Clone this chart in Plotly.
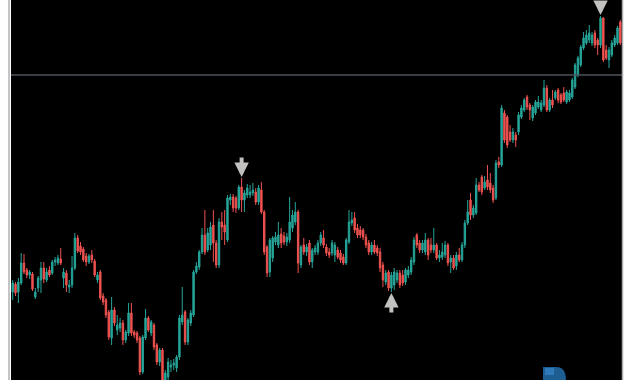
import plotly.graph_objects as go

# Candle data (price units), in time order
open_ = [108,116,108,117,137,130,125,126,103,112,120,
         132,120,130,127,138,137,141,122,127,113,115,
         132,162,154,151,144,138,145,139,120,128,104,
         100,88,62,90,70,72,77,60,67,87,
         68,67,62,28,62,82,67,75,55,38,
         50,20,23,33,35,32,43,78,88,58,77,
         85,128,133,148,165,150,155,175,157,135,
         178,175,160,200,203,202,192,213,200,205,
         205,207,208,198,210,188,153,128,142,158,
         155,166,164,158,160,172,178,188,135,155,
         148,157,138,148,148,157,162,153,148,147,
         145,150,147,143,137,158,177,182,172,170,
         170,163,157,148,155,152,148,135,118,128,
         112,115,120,127,125,118,125,128,138,165,
         157,150,148,160,155,150,155,142,143,
         145,155,138,142,134,145,140,155,177,200,
         185,187,215,223,212,220,217,212,202,238,
         235,287,283,268,260,265,268,283,290,
         303,295,282,287,293,290,295,312,290,300,
         302,310,305,307,298,300,303,313,325,
         335,352,357,360,357,367,360,355,382,350,
         340,345,355,357,378]
high = [120,118,122,147,146,132,130,128,112,124,138,
        138,132,134,140,143,145,152,132,130,120,144,
        167,165,158,153,147,146,150,141,128,130,107,
        102,90,103,93,85,82,80,70,97,97,
        70,69,64,65,91,84,80,77,57,52,
        52,30,42,40,41,45,85,113,90,82,90,
        130,138,150,172,190,172,178,190,160,182,
        188,190,205,206,206,204,215,222,210,216,
        215,217,212,215,218,190,155,162,164,168,
        178,172,168,167,203,190,198,190,155,162,
        156,160,152,155,160,168,170,156,152,160,
        158,153,150,146,162,190,188,188,176,174,
        172,166,160,158,160,155,152,138,130,130,
        128,132,130,130,130,132,134,143,163,167,
        160,160,167,162,162,172,157,150,157,
        159,157,145,145,148,152,158,180,200,207,
        195,222,218,225,224,235,227,215,240,243,
        295,290,285,275,272,268,288,295,302,
        305,297,295,300,304,300,320,315,302,310,
        310,312,307,313,310,310,322,337,344,
        355,368,370,375,368,370,362,384,383,355,
        353,360,365,374,380]
low = [100,104,97,115,126,122,121,109,101,108,107,
       117,118,123,125,134,135,135,112,108,107,112,
       130,147,145,138,134,136,137,123,117,100,95,
       82,60,55,74,65,68,55,57,64,64,
       62,57,25,26,60,68,64,50,35,34,
       18,18,18,28,30,28,40,75,55,55,74,
       83,126,130,146,145,148,150,138,132,132,
       160,155,158,195,188,187,190,188,188,202,
       202,204,195,195,186,145,123,123,138,155,
       152,152,155,154,157,168,175,127,132,145,
       144,135,132,145,145,154,152,144,142,144,
       138,141,137,135,135,156,174,167,162,162,
       160,152,145,145,146,144,128,113,115,109,
       108,110,117,112,114,115,122,125,135,152,
       147,147,145,140,147,147,140,138,140,
       142,134,127,130,130,138,138,152,175,180,
       182,185,208,205,210,210,207,197,200,232,
       233,257,252,258,257,253,265,281,288,
       290,280,279,285,291,288,293,288,288,292,
       300,297,296,298,296,298,301,311,323,
       333,350,355,357,354,352,345,352,338,340,
       332,343,353,355,355]
close = [117,107,118,137,128,125,128,111,108,122,132,
         121,128,125,138,140,142,137,128,115,115,132,
         162,149,148,140,138,144,140,125,125,102,98,
         85,63,90,77,75,77,60,68,87,67,
         65,60,28,63,82,70,78,53,38,50,
         20,27,38,35,37,43,82,85,58,80,87,
         128,134,148,165,148,167,173,157,135,178,
         173,168,202,203,192,192,213,200,207,212,
         208,210,198,212,188,148,127,160,162,163,
         165,157,158,163,178,185,188,137,153,148,
         153,138,150,152,157,165,155,147,145,157,
         155,143,140,137,160,178,180,170,165,165,
         163,155,148,155,148,147,132,120,127,112,
         125,128,127,115,117,130,130,140,160,155,
         150,157,160,145,150,155,142,145,148,
         155,137,142,132,145,140,155,177,188,185,
         192,215,210,208,218,213,210,200,237,235,
         292,260,255,260,268,260,285,292,300,
         293,290,293,298,298,297,312,290,300,295,
         308,300,298,300,308,307,320,335,342,
         353,362,365,367,365,355,355,382,340,342,
         350,357,362,372,357]

level_price = 325          # horizontal level line
signal_down = [81, 208]    # candles marked with a down arrow (at high)
signal_up = [134]          # candle marked with an up arrow (at low)

n = len(close)
idx = list(range(n))

fig = go.Figure()
fig.add_trace(go.Candlestick(
    x=idx, open=open_, high=high, low=low, close=close,
    increasing=dict(line=dict(color="#26a69a", width=1), fillcolor="#26a69a"),
    decreasing=dict(line=dict(color="#ef5350", width=1), fillcolor="#ef5350"),
    whiskerwidth=0, showlegend=False, hoverinfo="skip",
))

fig.add_shape(type="line", xref="paper", yref="y", x0=0, x1=1,
              y0=level_price, y1=level_price,
              line=dict(color="#4d535d", width=1.6))

for i in signal_down:
    fig.add_annotation(x=i, y=high[i], xref="x", yref="y", text="",
                       showarrow=True, ax=0, ay=-22, arrowhead=2, arrowsize=0.72,
                       arrowwidth=4, arrowcolor="#c2c1bf", standoff=1)
for i in signal_up:
    fig.add_annotation(x=i, y=low[i], xref="x", yref="y", text="",
                       showarrow=True, ax=0, ay=22, arrowhead=2, arrowsize=0.72,
                       arrowwidth=4, arrowcolor="#c2c1bf", standoff=1)

# frame edges
fig.add_shape(type="line", xref="paper", yref="paper", x0=-0.0033, x1=-0.0033, y0=0, y1=1,
              line=dict(color="#c4c4c4", width=2))
fig.add_shape(type="line", xref="paper", yref="paper", x0=1.0008, x1=1.0008, y0=0, y1=1,
              line=dict(color="#a8a8a8", width=1.5))

# watermark logo (bottom)
fig.add_shape(type="path", xref="paper", yref="paper",
              path="M 0.8707,0 L 0.8707,0.0342 L 0.8920,0.0342 Q 0.9083,0.0342 0.9083,0 Z",
              fillcolor="#1d5d92", line=dict(width=0))
fig.add_shape(type="rect", xref="paper", yref="paper", x0=0.8740, x1=0.8887, y0=0.0132, y1=0.0316,
              fillcolor="#2f79b8", line=dict(width=0))

fig.update_layout(
    width=630, height=380,
    margin=dict(l=11, r=8, t=0, b=0),
    paper_bgcolor="#ffffff", plot_bgcolor="#000000",
    xaxis=dict(range=[-0.6, n - 0.4], visible=False, rangeslider=dict(visible=False), fixedrange=True),
    yaxis=dict(range=[20, 400], showgrid=False, zeroline=False, showticklabels=False,
               ticks="", showline=False, fixedrange=True),
    showlegend=False,
)

fig.write_html("out.html", config={"displayModeBar": False})
